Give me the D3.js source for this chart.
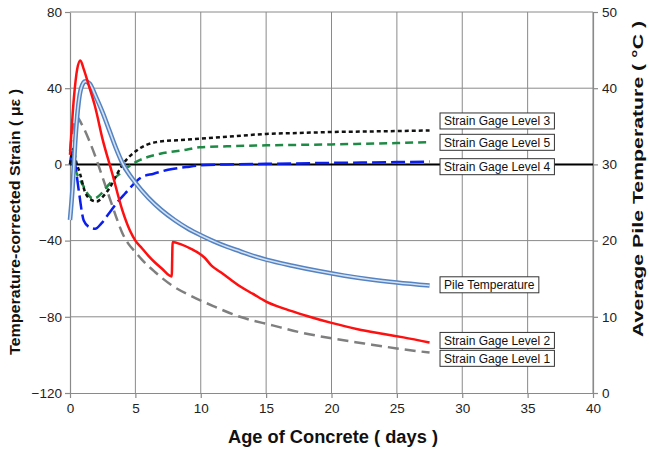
<!DOCTYPE html>
<html><head><meta charset="utf-8">
<script src="https://cdn.jsdelivr.net/npm/d3@7"></script>
<style>
html,body{margin:0;padding:0;background:#fff;}
svg{display:block;font-family:"Liberation Sans",Arial,sans-serif;}
</style></head>
<body><svg id="chart" width="649" height="452"></svg>
<script>
// ---- Data ----
const xTicks = [0,5,10,15,20,25,30,35,40];
const yTicks = [-120,-80,-40,0,40,80];
const y2Ticks = [0,10,20,30,40,50];

const level1 = [[0,7],[0.25,20],[0.54,24.8],[0.9,21],[1.5,12],[2.0,3],[2.5,-7],[3.0,-17],[3.5,-27],[4.0,-36],[4.5,-42],[5.0,-46],[5.5,-50],[6.5,-56.5],[7.9,-64],[9.4,-69.5],[11,-74.5],[13,-80],[15.5,-84.5],[17.5,-88],[20,-91.3],[22.5,-94],[25,-96.6],[27.5,-98.8]];
const level2 = [[0,5],[0.3,35],[0.55,50],[0.79,54.6],[1.05,50],[1.5,40],[1.93,30],[2.5,13],[3.2,-4],[4.0,-24],[4.6,-35],[5.0,-40],[5.5,-44],[6.0,-48],[6.5,-51.5],[7.0,-54.5],[7.78,-58.8],[7.85,-40.8],[8.5,-42],[9.3,-44.5],[9.94,-47],[10.3,-49],[10.8,-53],[11.5,-56.5],[12.3,-60.5],[13,-64],[14,-68],[15,-72],[16.5,-76],[18,-79.3],[20,-83.2],[22,-86.5],[24,-89],[25.5,-90.8],[27.5,-93.5]];
const level3 = [[0,0],[0.12,5],[0.25,8.2],[0.45,2],[0.77,-4.9],[1.15,-14.5],[1.6,-18.5],[2.04,-19.5],[2.5,-17],[3.06,-12],[3.6,-5],[4.08,0.4],[5.1,7.3],[6.6,11.7],[8.9,13],[9.9,13.5],[12,14.5],[15,16],[17.5,16.5],[20,17],[23,17.3],[25,17.5],[27.5,17.8]];
const level4 = [[0,0],[0.15,6.5],[0.35,2],[0.67,-13.7],[1.05,-29.4],[1.5,-33],[1.93,-33.8],[2.4,-31],[2.96,-25.9],[3.6,-20],[4.2,-15.4],[5.5,-6.6],[6.4,-4.9],[7.5,-2.8],[8.9,-1.4],[10,-0.5],[12,0],[15,0.3],[20,0.8],[25,1.2],[27.5,1.5]];
const level5 = [[0,0],[0.15,2],[0.35,-2],[0.64,-6.6],[1.0,-11],[1.4,-16],[1.8,-18],[2.3,-16],[2.8,-12],[3.3,-8],[3.8,-4.9],[4.4,-1.5],[5.1,1.5],[6.0,4],[6.9,5.6],[8.9,7.7],[9.9,9],[12,9.5],[15,10],[20,10.5],[25,11.2],[27.5,11.7]];
const pileTemp = [[0,22.7],[0.2,27],[0.4,33],[0.65,38],[0.85,40],[1.17,40.9],[1.5,40.6],[2.0,38.8],[2.5,36.8],[3.0,34.5],[3.5,32.2],[4,30.2],[5,27.6],[6,25.6],[7,24.0],[8,22.7],[9,21.6],[10,20.7],[11,19.9],[12,19.2],[13,18.6],[14,18.0],[15,17.5],[17,16.7],[19,16.0],[21,15.4],[23,14.9],[25,14.5],[27.5,14.1]];
const zeroLine = [[0,0],[40,0]];

const labelNames = ["Strain Gage Level 3","Strain Gage Level 5","Strain Gage Level 4","Pile Temperature","Strain Gage Level 2","Strain Gage Level 1"];
const labelValues = [22.8, 11.6, -1.2, 14.2, -92.4, -101.8]; // strain for gages, °C for pile temp

// ---- Layout ----
const svg = d3.select("#chart");
const L = 70, R = 593, T = 12, B = 393;
const x = d3.scaleLinear().domain([0,40]).range([L,R]);
const y = d3.scaleLinear().domain([-120,80]).range([B,T]);
const y2 = d3.scaleLinear().domain([0,50]).range([B,T]);
const gridColor = "#8a8a8a";

// gridlines
svg.append("g").selectAll("line").data(xTicks.slice(1)).join("line")
  .attr("x1",d=>x(d)).attr("x2",d=>x(d)).attr("y1",T).attr("y2",B)
  .attr("stroke",gridColor).attr("stroke-width",1);
svg.append("g").selectAll("line").data(yTicks.slice(1)).join("line")
  .attr("x1",L).attr("x2",R).attr("y1",d=>y(d)).attr("y2",d=>y(d))
  .attr("stroke",gridColor).attr("stroke-width",1);

// axes
const fmt = d3.format("d");
const axL = svg.append("g").attr("transform",`translate(${L},0)`)
  .call(d3.axisLeft(y).tickValues(yTicks).tickSize(5).tickSizeOuter(0).tickFormat(fmt));
const axR = svg.append("g").attr("transform",`translate(${R},0)`)
  .call(d3.axisRight(y2).tickValues(y2Ticks).tickSize(5).tickSizeOuter(0).tickFormat(fmt));
const axB = svg.append("g").attr("transform",`translate(0,${B})`)
  .call(d3.axisBottom(x).tickValues(xTicks).tickSize(5).tickSizeOuter(0).tickFormat(fmt));
[axL,axR,axB].forEach(a=>{
  a.selectAll("path.domain").attr("stroke",gridColor).attr("stroke-width",1.2);
  a.selectAll(".tick line").attr("stroke",gridColor).attr("stroke-width",1.2);
  a.selectAll("text").attr("font-size",13.5).attr("fill","#222")
   .attr("font-family","'Liberation Sans',Arial,sans-serif");
});
axL.selectAll("text").attr("x",-8);
axR.selectAll("text").attr("x",9);
axB.selectAll("text").attr("y",10);

// lines
const line = d3.line().x(d=>x(d[0])).y(d=>y(d[1])).curve(d3.curveMonotoneX);
const line2 = d3.line().x(d=>x(d[0])).y(d=>y2(d[1])).curve(d3.curveMonotoneX);

svg.append("path").datum(zeroLine).attr("d",d3.line().x(d=>x(d[0])).y(d=>y(d[1])))
  .attr("stroke","#000").attr("stroke-width",2).attr("fill","none");

function drawSeries(data, gen, color, width, dash){
  svg.append("path").datum(data).attr("d",gen).attr("fill","none")
    .attr("stroke",color).attr("stroke-width",width)
    .attr("stroke-dasharray",dash||null).attr("stroke-linejoin","round");
}
drawSeries(level1, line, "#7f7f7f", 2.5, "11,6");
drawSeries(level5, line, "#1f8a45", 2.5, "8,5");
drawSeries(level4, line, "#0a1ef0", 2.5, "14,5");
drawSeries(level3, line, "#111", 2.5, "4,3");
drawSeries(pileTemp, line2, "#5583c2", 4.6);
drawSeries(pileTemp, line2, "#d3e2f5", 1.6);
drawSeries(level2, line, "#ff1010", 2.5);

// labels
const labelDay = 28.3;
labelNames.forEach((name,i)=>{
  const isTemp = name === "Pile Temperature";
  const cy = isTemp ? y2(labelValues[i]) : y(labelValues[i]);
  const g = svg.append("g");
  const t = g.append("text").attr("x",x(labelDay)+4).attr("y",cy+4.5)
    .attr("font-size",12).attr("fill","#111").text(name);
  const bb = t.node().getBBox();
  g.insert("rect","text").attr("x",bb.x-4).attr("y",cy-8).attr("width",bb.width+8).attr("height",16)
    .attr("fill","#fff").attr("stroke","#333").attr("stroke-width",1);
});

// axis titles
svg.append("text").attr("transform",`translate(20,222) rotate(-90)`)
  .attr("text-anchor","middle").attr("font-size",14).attr("font-weight","bold").attr("fill","#111")
  .attr("textLength",266).attr("lengthAdjust","spacingAndGlyphs")
  .text("Temperature-corrected  Strain ( με )");
svg.append("text").attr("transform",`translate(643,179) rotate(-90)`)
  .attr("text-anchor","middle").attr("font-size",14.5).attr("font-weight","bold").attr("fill","#111")
  .attr("textLength",316).attr("lengthAdjust","spacingAndGlyphs")
  .text("Average Pile Temperature ( °C )");
svg.append("text").attr("x",333).attr("y",443)
  .attr("text-anchor","middle").attr("font-size",17.5).attr("font-weight","bold").attr("fill","#111")
  .attr("textLength",210).attr("lengthAdjust","spacingAndGlyphs")
  .text("Age of Concrete ( days )");
</script></body></html>
